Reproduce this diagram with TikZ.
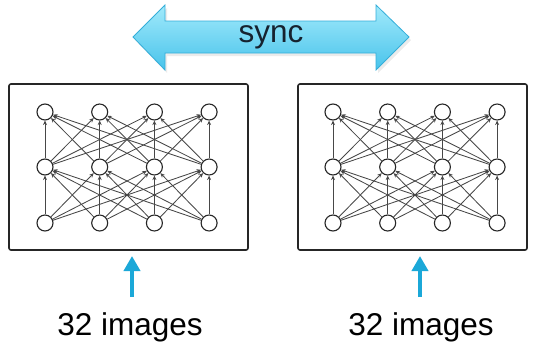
\documentclass[tikz,border=0pt]{standalone}
\usepackage{fontspec}
\setmainfont{Liberation Sans}
\usetikzlibrary{arrows.meta}
\definecolor{synctop}{HTML}{A2EAFB}
\definecolor{syncbot}{HTML}{48C3EB}
\definecolor{syncedge}{HTML}{34AED9}
\definecolor{synctext}{HTML}{16222F}
\definecolor{feedblue}{HTML}{1BA8D8}
\begin{document}
\begin{tikzpicture}[x=1pt,y=-1pt,
  frame/.style={draw=black!85, line width=1.6pt, rounded corners=2pt},
  neuron/.style={circle, draw=black!85, fill=white, line width=1.1pt,
                 minimum size=16pt, inner sep=0pt},
  link/.style={draw=black!72, line width=0.85pt, -{Stealth[length=4.5pt,width=4pt]}},
  feed/.style={draw=feedblue, line width=4.5pt, -{Triangle[length=15pt,width=16pt]}},
  bigtext/.style={font=\fontsize{31.5}{36}\selectfont, inner sep=0pt}
]
\useasboundingbox (0,0) rectangle (535,346);

% double-headed sync arrow with a faint shadow
\fill[black, opacity=0.08] (135,40) -- (167,8) -- (167,24) -- (378,24) -- (378,8)
  -- (411,40) -- (378,73) -- (378,56) -- (167,56) -- (167,73) -- cycle;
\draw[syncedge, line width=0.8pt, top color=synctop, bottom color=syncbot]
  (133,37) -- (165,5) -- (165,21) -- (376,21) -- (376,5) -- (409,37)
  -- (376,70) -- (376,53) -- (165,53) -- (165,70) -- cycle;
\node[bigtext, text=synctext] (sync) at (271,37) {sync};

% two replicas, each a small fully connected network
\draw[frame] (9,84) rectangle (248,250);
\draw[frame] (298,84) rectangle (527,250);

\foreach \side/\ox in {L/45, R/333} {
  \foreach \r/\y in {1/112, 2/167, 3/223} {
    \foreach \c in {1,...,4} {
      \node[neuron] (\side\r c\c) at ({\ox+(\c-1)*54.7}, \y) {};
    }
  }
  \foreach \i in {1,...,4} {
    \foreach \j in {1,...,4} {
      \draw[link] (\side3c\i) -- (\side2c\j);
      \draw[link] (\side2c\i) -- (\side1c\j);
    }
  }
}

% input batches
\coordinate (Ltail) at (132,297);
\coordinate (Lhead) at (132,256);
\coordinate (Rtail) at (420,297);
\coordinate (Rhead) at (420,256);
\draw[feed] (Ltail) -- (Lhead);
\draw[feed] (Rtail) -- (Rhead);

\node[bigtext] (Lcap) at (130,327) {32 images};
\node[bigtext] (Rcap) at (421,327) {32 images};
\end{tikzpicture}
\end{document}
